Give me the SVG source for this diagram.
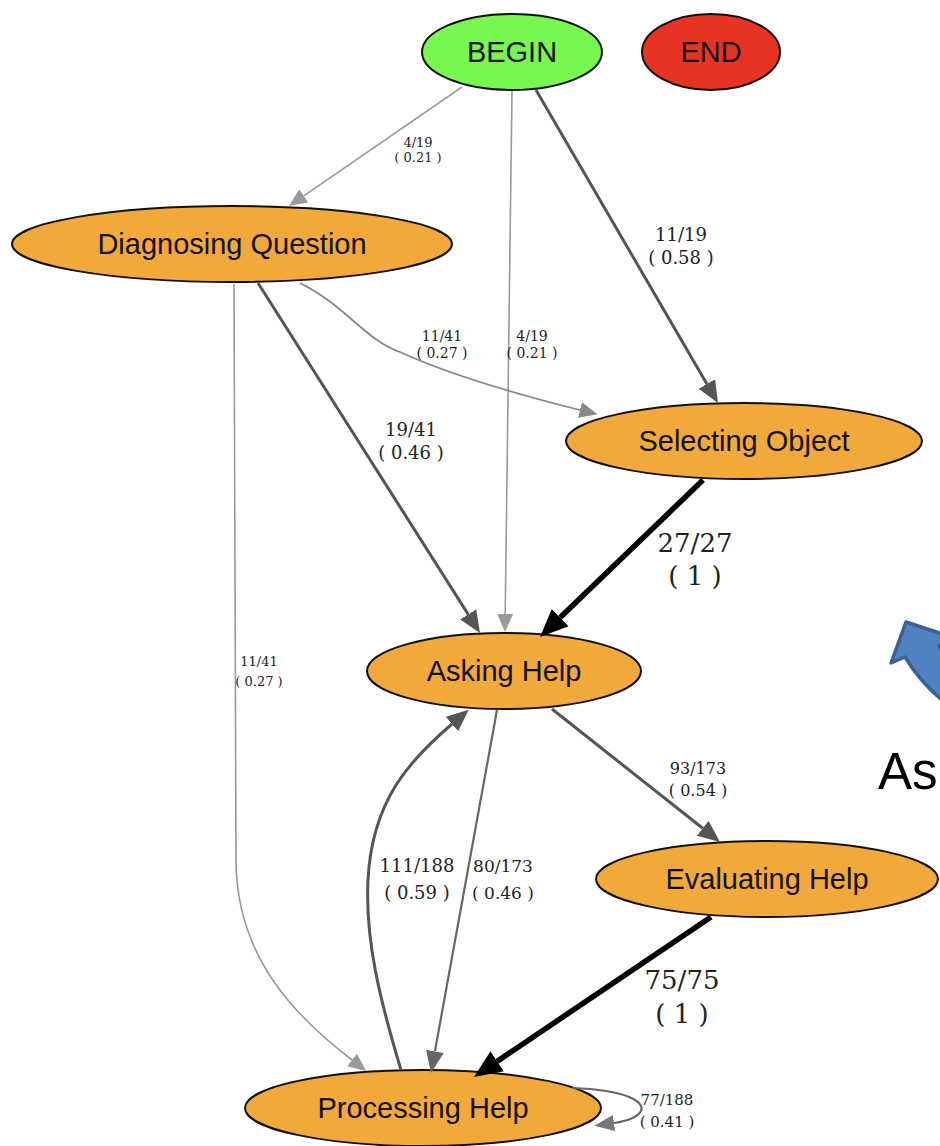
<svg xmlns="http://www.w3.org/2000/svg" width="940" height="1146" viewBox="0 0 940 1146">
  <style>
    .node ellipse { stroke: #111; stroke-width: 2; }
    .state ellipse { fill: #f2a93b; }
    .node text { font-family: "Liberation Sans", Arial, sans-serif; font-size: 29px; fill: #111; text-anchor: middle; }
    .edge { fill: none; }
    .light { stroke: #9a9a9a; stroke-width: 1.6; }
    .mid { stroke: #888; stroke-width: 1.8; }
    .gray { stroke: #666; stroke-width: 2.2; }
    .dark { stroke: #555; stroke-width: 3; }
    .heavy { stroke: #000; stroke-width: 5.5; }
    .lbl { font-family: "DejaVu Serif", "Liberation Serif", serif; fill: #222; text-anchor: middle; }
  </style>
  <defs>
    <marker id="ah-light" markerUnits="userSpaceOnUse" viewBox="0 -9 18 18" markerWidth="18" markerHeight="18" refX="0" refY="0" orient="auto">
      <path d="M0,-8 L18,0 L0,8 z" fill="#9a9a9a"/>
    </marker>
    <marker id="ah-mid" markerUnits="userSpaceOnUse" viewBox="0 -9 18 18" markerWidth="18" markerHeight="18" refX="0" refY="0" orient="auto">
      <path d="M0,-8 L18,0 L0,8 z" fill="#888"/>
    </marker>
    <marker id="ah-loop" markerUnits="userSpaceOnUse" viewBox="0 -9 20 18" markerWidth="20" markerHeight="18" refX="0" refY="0" orient="auto">
      <path d="M0,-8 L20,0 L0,8 z" fill="#777"/>
    </marker>
    <marker id="ah-gray" markerUnits="userSpaceOnUse" viewBox="0 -10 22 20" markerWidth="22" markerHeight="20" refX="0" refY="0" orient="auto">
      <path d="M0,-9 L22,0 L0,9 z" fill="#666"/>
    </marker>
    <marker id="ah-dark" markerUnits="userSpaceOnUse" viewBox="0 -10 22 20" markerWidth="22" markerHeight="20" refX="0" refY="0" orient="auto">
      <path d="M0,-9.5 L22,0 L0,9.5 z" fill="#555"/>
    </marker>
    <marker id="ah-heavy" markerUnits="userSpaceOnUse" viewBox="0 -13 28 26" markerWidth="28" markerHeight="26" refX="0" refY="0" orient="auto">
      <path d="M0,-12 L28,0 L0,12 z" fill="#000"/>
    </marker>
  </defs>

  <rect width="940" height="1146" fill="#fff"/>

  <!-- states -->
  <g id="begin" class="node">
    <ellipse cx="512" cy="52" rx="90" ry="38" fill="#77f74f"/>
    <text x="512" y="62">BEGIN</text>
  </g>
  <g id="end" class="node">
    <ellipse cx="711" cy="52" rx="69" ry="38" fill="#e83323"/>
    <text x="711" y="62">END</text>
  </g>
  <g id="diagnosing-question" class="node state">
    <ellipse cx="232" cy="244" rx="220" ry="38"/>
    <text x="232" y="254">Diagnosing Question</text>
  </g>
  <g id="selecting-object" class="node state">
    <ellipse cx="744" cy="441" rx="178" ry="38"/>
    <text x="744" y="451">Selecting Object</text>
  </g>
  <g id="asking-help" class="node state">
    <ellipse cx="504" cy="671" rx="137" ry="38"/>
    <text x="504" y="681">Asking Help</text>
  </g>
  <g id="evaluating-help" class="node state">
    <ellipse cx="767" cy="879" rx="171" ry="38"/>
    <text x="767" y="889">Evaluating Help</text>
  </g>
  <g id="processing-help" class="node state">
    <ellipse cx="423" cy="1108" rx="178" ry="38"/>
    <text x="423" y="1118">Processing Help</text>
  </g>

  <!-- transitions -->
  <g id="connectors">
    <path class="edge light" d="M462,87 L303.8,195.8" marker-end="url(#ah-light)"/>
    <path class="edge light" d="M512,91 L505.2,614" marker-end="url(#ah-light)"/>
    <path class="edge dark" d="M536,90 L706.9,384" marker-end="url(#ah-dark)"/>
    <path class="edge mid" d="M300,283 C345,305 365,340 400,352 C450,375 520,395 580,410" marker-end="url(#ah-mid)"/>
    <path class="edge dark" d="M258,283 L468.2,614.4" marker-end="url(#ah-dark)"/>
    <path class="edge light" d="M234,284 C235,500 236,700 236,860 C236,960 300,1020 352,1060" marker-end="url(#ah-light)"/>
    <path class="edge heavy" d="M703,480 L560.2,617.5" marker-end="url(#ah-heavy)"/>
    <path class="edge dark" d="M552,709 L702.7,828.3" marker-end="url(#ah-dark)"/>
    <path class="edge gray" d="M497,710 L434.9,1051.4" marker-end="url(#ah-gray)"/>
    <path class="edge dark" d="M401,1070 C380,1000 365,940 368,880 C372,800 410,760 452,724" marker-end="url(#ah-dark)"/>
    <path class="edge heavy" d="M711,917 L497.2,1061.3" marker-end="url(#ah-heavy)"/>
    <path class="edge gray" stroke="#777" d="M572,1088 C630,1090 645,1103 641,1111 C637,1118 628,1121 614,1123" marker-end="url(#ah-loop)"/>

    <!-- transition labels: count / total and probability -->
    <text class="lbl" font-size="13" x="418" y="147">4/19</text>
    <text class="lbl" font-size="13" x="418" y="162">( 0.21 )</text>
    <text class="lbl" font-size="18" x="681" y="241">11/19</text>
    <text class="lbl" font-size="18" x="681" y="264">( 0.58 )</text>
    <text class="lbl" font-size="14" x="442" y="341">11/41</text>
    <text class="lbl" font-size="14" x="442" y="358">( 0.27 )</text>
    <text class="lbl" font-size="14" x="532" y="341">4/19</text>
    <text class="lbl" font-size="14" x="532" y="358">( 0.21 )</text>
    <text class="lbl" font-size="18" x="411" y="436">19/41</text>
    <text class="lbl" font-size="18" x="411" y="459">( 0.46 )</text>
    <text class="lbl" font-size="26" x="695" y="552">27/27</text>
    <text class="lbl" font-size="26" x="695" y="585">( 1 )</text>
    <text class="lbl" font-size="13" x="259" y="666">11/41</text>
    <text class="lbl" font-size="13" x="259" y="686">( 0.27 )</text>
    <text class="lbl" font-size="16" x="698" y="774">93/173</text>
    <text class="lbl" font-size="16" x="698" y="796">( 0.54 )</text>
    <text class="lbl" font-size="18" x="417" y="872">111/188</text>
    <text class="lbl" font-size="18" x="417" y="899">( 0.59 )</text>
    <text class="lbl" font-size="17" x="503" y="872">80/173</text>
    <text class="lbl" font-size="17" x="503" y="899">( 0.46 )</text>
    <text class="lbl" font-size="26" x="682" y="989">75/75</text>
    <text class="lbl" font-size="26" x="682" y="1023">( 1 )</text>
    <text class="lbl" font-size="15" x="667" y="1105">77/188</text>
    <text class="lbl" font-size="15" x="667" y="1127">( 0.41 )</text>
  </g>

  <!-- callout at the right margin -->
  <g id="callout">
    <path d="M891,663 L906,622 L952,637 L939,646 Q950,662 970,675 L970,720 Q928,695 905,657 Z" fill="#5081c0" stroke="#3a6293" stroke-width="3.5" stroke-linejoin="round"/>
    <text x="878" y="789" font-family="Liberation Sans, Arial, sans-serif" font-size="51" fill="#000">As</text>
  </g>
</svg>
